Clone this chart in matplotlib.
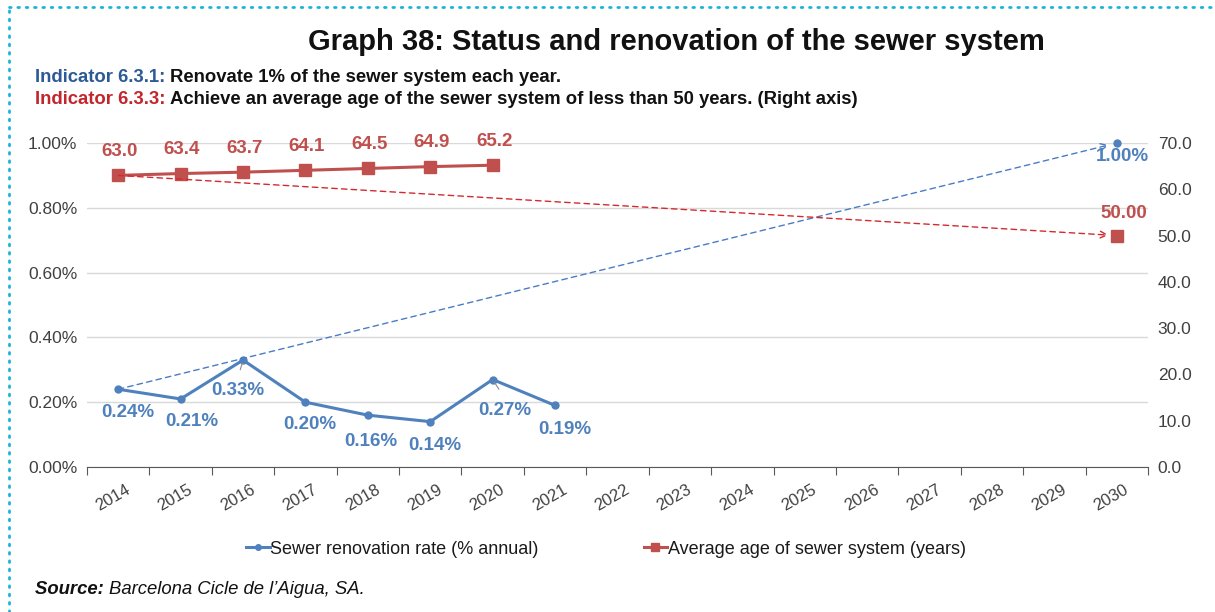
import matplotlib
matplotlib.use('Agg')
import matplotlib.pyplot as plt
from matplotlib.lines import Line2D
from matplotlib.transforms import ScaledTranslation

plt.rcParams['font.family'] = ['Liberation Sans', 'DejaVu Sans']

# Years on the category axis
years = [str(y) for y in range(2014, 2031)]

# Sewer renovation rate (% annual), 2014-2021, and the 2030 target
renov_years = years[:8]
renov_rate = [0.24, 0.21, 0.33, 0.20, 0.16, 0.14, 0.27, 0.19]
renov_target = 1.00

# Average age of the sewer system (years), 2014-2020, and the 2030 target
age_years = years[:7]
avg_age = [63.0, 63.4, 63.7, 64.1, 64.5, 64.9, 65.2]
age_target = 50.00

BLUE = '#4f81bd'
BLUE_DASH = '#4a7cc4'
RED = '#c0504d'
RED_DASH = '#d42a2f'
IND_BLUE = '#2c5a96'
IND_RED = '#c3252c'
TXT = '#404040'

fig = plt.figure(figsize=(12.15, 6.12), dpi=100)
W, H = 1215, 612

ax = fig.add_axes([87 / W, (H - 467) / H, 1061 / W, 324 / H])
ax2 = ax.twinx()

xpos = {y: i for i, y in enumerate(years)}
xr = [xpos[y] for y in renov_years]
xa = [xpos[y] for y in age_years]
x_end = xpos['2030']

# left axis: renovation rate
ax.set_xlim(-0.5, len(years) - 0.5)
ax.set_ylim(0, 1.0)
ax.set_yticks([0, 0.2, 0.4, 0.6, 0.8, 1.0])
ax.set_yticklabels(['%.2f%%' % v for v in [0, 0.2, 0.4, 0.6, 0.8, 1.0]])
ax.grid(axis='y', color='#d9d9d9', lw=1)
ax.set_axisbelow(True)
for s in ['top', 'left', 'right']:
    ax.spines[s].set_visible(False)
ax.spines['bottom'].set_color('#595959')
ax.tick_params(axis='y', length=0, labelsize=12.5, colors=TXT, pad=7)

# category ticks between years, labels centred on years
ax.set_xticks([i - 0.5 for i in range(len(years) + 1)])
ax.set_xticklabels([])
ax.set_xticks(range(len(years)), minor=True)
ax.set_xticklabels(years, minor=True, rotation=30, ha='right',
                   rotation_mode='anchor', fontsize=12, color=TXT)
ax.tick_params(axis='x', which='major', length=6, color='#595959', direction='out')
ax.tick_params(axis='x', which='minor', length=0, pad=11)
for lbl in ax.get_xticklabels(minor=True):
    lbl.set_transform(lbl.get_transform() + ScaledTranslation(5 / 72, 0, fig.dpi_scale_trans))

# right axis: average age
ax2.set_ylim(0, 70)
ax2.set_yticks(range(0, 71, 10))
ax2.set_yticklabels(['%.1f' % v for v in range(0, 71, 10)])
for s in ['top', 'left', 'right', 'bottom']:
    ax2.spines[s].set_visible(False)
ax2.tick_params(axis='y', length=0, labelsize=12.5, colors=TXT, pad=7)

# trend lines towards the 2030 targets
ax.annotate('', xy=(x_end, renov_target), xytext=(xr[0], renov_rate[0]),
            arrowprops=dict(arrowstyle='->', color=BLUE_DASH, lw=1,
                            ls=(0, (4, 3)), shrinkA=0, shrinkB=6,
                            mutation_scale=12))
ax2.annotate('', xy=(x_end, age_target), xytext=(xa[0], avg_age[0]),
             arrowprops=dict(arrowstyle='->', color=RED_DASH, lw=1,
                             ls=(0, (4, 3)), shrinkA=0, shrinkB=6,
                             mutation_scale=12))

l1, = ax.plot(xr, renov_rate, '-o', color=BLUE, lw=2.2, ms=5)
ax.plot([x_end], [renov_target], 'o', color=BLUE, ms=5, clip_on=False)
l2, = ax2.plot(xa, avg_age, '-s', color=RED, lw=2.2, ms=8)
ax2.plot([x_end], [age_target], 's', color=RED, ms=8)

# value labels (offsets in points)
renov_off = [(7, -17), (8, -16), (-4, -22), (3, -16), (2, -19), (3, -17), (9, -22), (7, -17)]
for x, v, off in zip(xr, renov_rate, renov_off):
    ax.annotate('%.2f%%' % v, (x, v), xytext=off, textcoords='offset points',
                ha='center', va='center', fontsize=13.5, fontweight='bold', color=BLUE)
    if v in (0.33, 0.27):
        ax.annotate('', (x, v), xytext=(off[0] * 0.5, -7), textcoords='offset points',
                    arrowprops=dict(arrowstyle='-', color='#8c8c8c', lw=0.8,
                                    shrinkA=0, shrinkB=2))
ax.annotate('%.2f%%' % renov_target, (x_end, renov_target), xytext=(4, -10),
            textcoords='offset points', ha='center', va='center', fontsize=13.5,
            fontweight='bold', color=BLUE)

for x, v in zip(xa, avg_age):
    ax2.annotate('%.1f' % v, (x, v), xytext=(1, 17), textcoords='offset points',
                 ha='center', va='center', fontsize=13.5, fontweight='bold', color=RED)
ax2.annotate('%.2f' % age_target, (x_end, age_target), xytext=(5, 16),
             textcoords='offset points', ha='center', va='center', fontsize=13.5,
             fontweight='bold', color=RED)


def text_pair(x, y, first, second, color1, size, style1=None, style2=None):
    """Draw two pieces of text side by side on one line."""
    s1 = dict(fontweight='bold')
    s1.update(style1 or {})
    s2 = dict(fontweight='bold')
    s2.update(style2 or {})
    t = fig.text(x, y, first, ha='left', va='center', fontsize=size, color=color1, **s1)
    fig.canvas.draw()
    r = fig.transFigure.inverted().transform(t.get_window_extent().get_points())[1][0]
    fig.text(r, y, second, ha='left', va='center', fontsize=size, color='#111111', **s2)


# titles
fig.text(676 / W, 1 - 42 / H, 'Graph 38: Status and renovation of the sewer system',
         ha='center', va='center', fontsize=21, fontweight='bold', color='#111111')
text_pair(35 / W, 1 - 77 / H, 'Indicator 6.3.1: ',
          'Renovate 1% of the sewer system each year.', IND_BLUE, 13.3)
text_pair(35 / W, 1 - 100 / H, 'Indicator 6.3.3: ',
          'Achieve an average age of the sewer system of less than 50 years. (Right axis)',
          IND_RED, 13.3)

# legend
fig.legend([l1, l2], ['Sewer renovation rate (% annual)',
                      'Average age of sewer system (years)'],
           loc='center', bbox_to_anchor=(606 / W, 1 - 549 / H), ncol=2,
           frameon=False, fontsize=13, handlelength=1.3, handletextpad=0.05,
           columnspacing=5.8, labelcolor='#1a1a1a', markerscale=0.8)

# source line
text_pair(35 / W, 1 - 590 / H, 'Source: ', 'Barcelona Cicle de l\u2019Aigua, SA.', '#111111',
          13.3, style1=dict(fontstyle='italic'),
          style2=dict(fontstyle='italic', fontweight='normal'))

# dotted frame along top and left edges
fig.add_artist(Line2D([9 / W, 1], [1 - 7 / H, 1 - 7 / H], transform=fig.transFigure,
                      color='#1cb4d6', lw=2, ls=(0, (0.6, 2.4)), dash_capstyle='round'))
fig.add_artist(Line2D([9 / W, 9 / W], [0, 1 - 7 / H], transform=fig.transFigure,
                      color='#1cb4d6', lw=2, ls=(0, (0.6, 2.4)), dash_capstyle='round'))

fig.savefig('out.png', dpi=100)
